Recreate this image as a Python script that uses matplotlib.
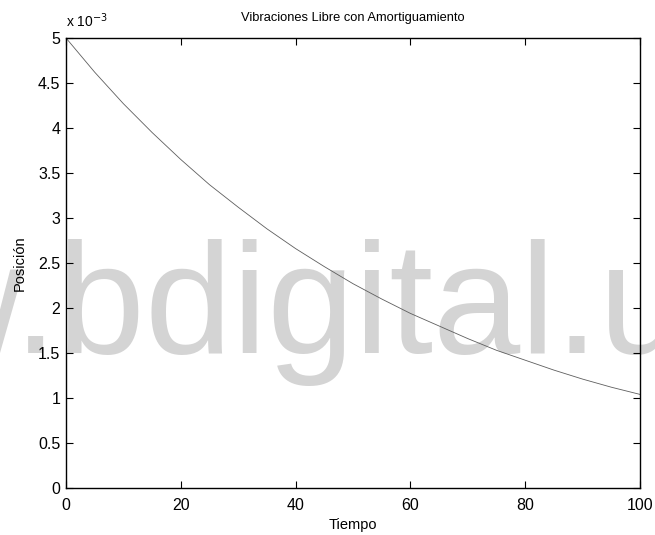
import numpy as np
import matplotlib
matplotlib.use("Agg")
import matplotlib.pyplot as plt

plt.rcParams['font.family'] = ['Liberation Sans', 'DejaVu Sans']

# free vibration response with damping: position (m) against time
tiempo = [0, 5, 10, 15, 20, 25, 30, 35, 40, 45, 50,
          55, 60, 65, 70, 75, 80, 85, 90, 95, 100]
posicion = [5.00e-3, 4.62e-3, 4.27e-3, 3.95e-3, 3.65e-3, 3.37e-3, 3.12e-3,
            2.88e-3, 2.66e-3, 2.46e-3, 2.27e-3, 2.10e-3, 1.94e-3, 1.80e-3,
            1.66e-3, 1.53e-3, 1.42e-3, 1.31e-3, 1.21e-3, 1.12e-3, 1.04e-3]
x_ticks = [0, 20, 40, 60, 80, 100]
y_ticks = [0, 0.5, 1, 1.5, 2, 2.5, 3, 3.5, 4, 4.5, 5]
y_ticklabels = ['0', '0.5', '1', '1.5', '2', '2.5', '3', '3.5', '4', '4.5', '5']
escala = 1e-3

fig = plt.figure(figsize=(6.55, 5.35), dpi=100)
ax = fig.add_axes([66 / 655, 1 - 488 / 535, (640 - 66) / 655, (488 - 38) / 535])
ax.set_facecolor('none')

# library watermark behind the axes
fig.text(-91 / 655, 1 - 353 / 535, 'w.bdigital.unal', fontsize=113,
         color='#d4d4d4', ha='left', va='baseline', zorder=-5)

ax.plot(tiempo, np.array(posicion) / escala, color='#5e5e5e', linewidth=0.6)

ax.set_xlim(0, 100)
ax.set_ylim(0, 5)
ax.set_xticks(x_ticks)
ax.set_yticks(y_ticks)
ax.set_yticklabels(y_ticklabels)
ax.tick_params(direction='in', length=5, width=0.8, top=True, right=True,
               labelsize=11.5, colors='black')
ax.tick_params(axis='x', pad=7)
ax.tick_params(axis='y', pad=4)
for sp in ax.spines.values():
    sp.set_linewidth(1.0)

ax.set_title('Vibraciones Libre con Amortiguamiento', fontsize=9.3, pad=12)
ax.set_xlabel('Tiempo', fontsize=10.5, labelpad=4)
ax.set_ylabel('Posición', fontsize=10.5, labelpad=8)
ax.text(0, 1.018, r'x 10$^{-3}$', transform=ax.transAxes, fontsize=10,
        ha='left', va='bottom')

fig.savefig('out.png', dpi=100)
